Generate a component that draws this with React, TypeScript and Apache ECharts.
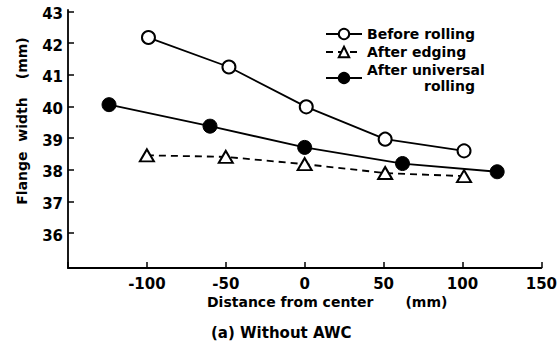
import React, { useEffect, useRef } from "react";
import * as echarts from "echarts";

const seriesNames = ["Before rolling", "After edging", "After universal rolling"];
const beforeX = [-99, -48, 1, 51, 101];
const beforeY = [42.18, 41.25, 39.99, 38.97, 38.6];
const edgingX = [-100, -50, 0, 51, 101];
const edgingY = [38.46, 38.41, 38.18, 37.9, 37.8];
const universalX = [-124, -60, 0, 62, 122];
const universalY = [40.06, 39.38, 38.71, 38.2, 37.94];
const yTicks = [36, 37, 38, 39, 40, 41, 42, 43];

const FONT = "DejaVu Sans";

function pairs(xs: number[], ys: number[]) {
  return xs.map((x, i) => [x, ys[i]]);
}

export default function App() {
  const ref = useRef<HTMLDivElement>(null);
  useEffect(() => {
    if (!ref.current) return;
    const chart = echarts.init(ref.current, null, { renderer: "svg" });
    const lineBase = { color: "#000", width: 1.8 };
    chart.setOption({
      animation: false,
      backgroundColor: "#fff",
      textStyle: { fontFamily: FONT, fontWeight: "bold", color: "#000" },
      grid: { left: 68, right: 18, top: 10, bottom: 88 },
      title: {
        text: "(a) Without AWC",
        left: 206,
        top: 320,
        textStyle: { fontFamily: FONT, fontWeight: "bold", fontSize: 15, color: "#000" },
      },
      legend: {
        left: 320,
        top: 22,
        orient: "vertical",
        itemWidth: 36,
        itemHeight: 13,
        itemGap: 4,
        data: seriesNames,
        formatter: (name: string) =>
          name === "After universal rolling"
            ? "{a|After universal}\n{b|rolling}"
            : "{a|" + name + "}",
        textStyle: {
          fontFamily: FONT,
          fontWeight: "bold",
          fontSize: 14,
          color: "#000",
          rich: {
            a: { fontFamily: FONT, fontWeight: "bold", fontSize: 14, color: "#000", lineHeight: 16 },
            b: { fontFamily: FONT, fontWeight: "bold", fontSize: 14, color: "#000", lineHeight: 16, padding: [0, 0, 0, 57] },
          },
        },
      },
      xAxis: {
        type: "value",
        min: -150,
        max: 150,
        interval: 50,
        axisLine: { show: true, onZero: false, lineStyle: { color: "#000", width: 1.8 } },
        axisTick: { show: true, inside: true, length: 6, lineStyle: { color: "#000", width: 1.5 } },
        axisLabel: {
          margin: 8,
          fontFamily: FONT,
          fontWeight: "bold",
          fontSize: 15,
          color: "#000",
          formatter: (v: number) => (v === -150 ? "" : String(v)),
        },
        splitLine: { show: false },
      },
      yAxis: {
        type: "value",
        min: 34.9,
        max: 43.05,
        axisLine: { show: true, onZero: false, lineStyle: { color: "#000", width: 1.8 } },
        axisTick: { show: true, inside: true, length: 6, customValues: yTicks, lineStyle: { color: "#000", width: 1.5 } },
        axisLabel: {
          margin: 5,
          customValues: yTicks,
          fontFamily: FONT,
          fontWeight: "bold",
          fontSize: 15,
          color: "#000",
          verticalAlign: "top",
          padding: [-5, 0, 0, 0],
        },
        splitLine: { show: false },
      },
      graphic: [
        {
          type: "text",
          x: 22,
          y: 121,
          rotation: Math.PI / 2,
          style: {
            text: "{a|Flange  width}{b|(mm)}",
            align: "center",
            verticalAlign: "middle",
            fill: "#000",
            rich: {
              a: { fontFamily: FONT, fontWeight: "bold", fontSize: 14, fill: "#000" },
              b: { fontFamily: FONT, fontWeight: "bold", fontSize: 14, fill: "#000", padding: [0, 0, 0, 18] },
            },
          },
        },
        {
          type: "text",
          x: 207,
          y: 302,
          style: {
            text: "{a|Distance from center}{b|(mm)}",
            align: "left",
            verticalAlign: "middle",
            fill: "#000",
            rich: {
              a: { fontFamily: FONT, fontWeight: "bold", fontSize: 14, fill: "#000" },
              b: { fontFamily: FONT, fontWeight: "bold", fontSize: 14, fill: "#000", padding: [0, 0, 0, 32] },
            },
          },
        },
      ],
      series: [
        {
          name: seriesNames[0],
          type: "line",
          data: pairs(beforeX, beforeY),
          symbol: "circle",
          symbolSize: 13,
          lineStyle: { ...lineBase, type: "solid" },
          itemStyle: { color: "#fff", borderColor: "#000", borderWidth: 2 },
          z: 3,
        },
        {
          name: seriesNames[1],
          type: "line",
          data: pairs(edgingX, edgingY),
          symbol: "triangle",
          symbolSize: [14, 12],
          lineStyle: { ...lineBase, type: [7, 5] },
          itemStyle: { color: "#fff", borderColor: "#000", borderWidth: 2 },
          z: 2,
        },
        {
          name: seriesNames[2],
          type: "line",
          data: pairs(universalX, universalY),
          symbol: "circle",
          symbolSize: 14,
          lineStyle: { ...lineBase, type: "solid" },
          itemStyle: { color: "#000", borderColor: "#000", borderWidth: 1 },
          z: 4,
        },
      ],
    });
    return () => chart.dispose();
  }, []);
  return <div ref={ref} style={{ width: 560, height: 356, position: "absolute", left: 0, top: 0 }} />;
}
